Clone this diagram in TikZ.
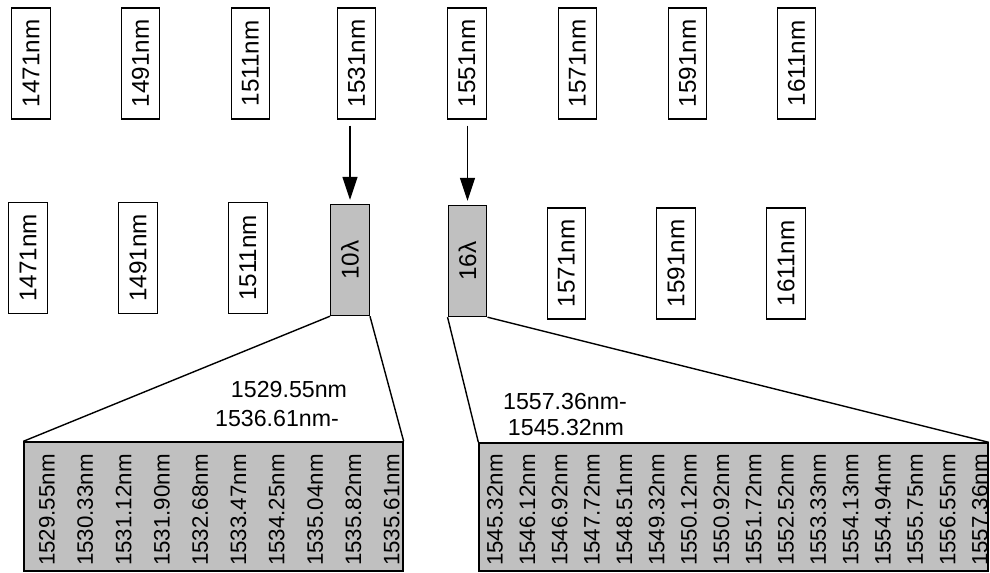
\documentclass[tikz,border=0pt]{standalone}
\usepackage{fontspec}
\setmainfont{Liberation Sans}
\usepackage{graphicx}
\usepackage{tikz}
\usetikzlibrary{arrows.meta}
\definecolor{bandgray}{HTML}{C0C0C0}

\begin{document}
\begin{tikzpicture}[x=0.02cm, y=-0.02cm, line width=0.8pt,
    chan/.style={draw, minimum width=0.77cm, minimum height=2.22cm,
      inner sep=0pt, font=\fontsize{13.8}{16}\selectfont},
    band/.style={chan, fill=bandgray},
    sub/.style={inner sep=0pt, font=\fontsize{12.7}{14}\selectfont},
    rng/.style={inner sep=0pt, font=\fontsize{13.2}{15}\selectfont}]
  \useasboundingbox (0,0) rectangle (990,572);

  % upper row: the eight CWDM channels
  \foreach \x/\w [count=\i] in {31/1471,140.5/1491,250.5/1511,356.5/1531,
                                467/1551,577.5/1571,687.5/1591,796.5/1611}
    \node[chan] (top\i) at (\x,63.5) {\rotatebox{90}{\w nm}};

  % lower row: two of the channels are split into DWDM groups
  \foreach \x/\w [count=\i] in {28/1471,138/1491,248/1511}
    \node[chan] (mid\i) at (\x,258) {\rotatebox{90}{\w nm}};
  \node[band] (mid4) at (350,260) {\rotatebox{90}{10λ}};
  \node[band] (mid5) at (467.5,261) {\rotatebox{90}{16λ}};
  \foreach \x/\w [count=\i from 6] in {566.5/1571,676/1591,786/1611}
    \node[chan] (mid\i) at (\x,263.5) {\rotatebox{90}{\w nm}};

  \foreach \i in {4,5}
    \draw[-{Triangle[length=0.46cm,width=0.3cm]}, shorten <=0.12cm,
          shorten >=0.08cm] (mid\i.north |- top\i.south) -- (mid\i.north);

  % expanded groups
  \node[band, minimum width=7.58cm, minimum height=2.58cm] (lo) at (213.5,506.5) {};
  \node[band, minimum width=10.18cm, minimum height=2.56cm] (hi) at (733.5,507) {};
  \foreach \w [count=\i from 0] in {1529.55,1530.33,1531.12,1531.90,1532.68,
                                    1533.47,1534.25,1535.04,1535.82,1535.61}
    \node[sub] (lo\i) at (47+38.3*\i,510) {\rotatebox{90}{\w nm}};
  \foreach \w [count=\i from 0] in {1545.32,1546.12,1546.92,1547.72,1548.51,
                                    1549.32,1550.12,1550.92,1551.72,1552.52,
                                    1553.33,1554.13,1554.94,1555.75,1556.55,1557.36}
    \node[sub] (hi\i) at (495+32.33*\i,510) {\rotatebox{90}{\w nm}};

  \draw (mid4.south west) -- (lo.north west) (mid4.south east) -- (lo.north east);
  \draw (mid5.south west) -- (hi.north west) (mid5.south east) -- (hi.north east);

  \node[rng] (loA) at (289,390) {1529.55nm};
  \node[rng] (loB) at (277,419) {1536.61nm-};
  \node[rng] (hiA) at (565,402) {1557.36nm-};
  \node[rng] (hiB) at (566,428) {1545.32nm};
\end{tikzpicture}
\end{document}
